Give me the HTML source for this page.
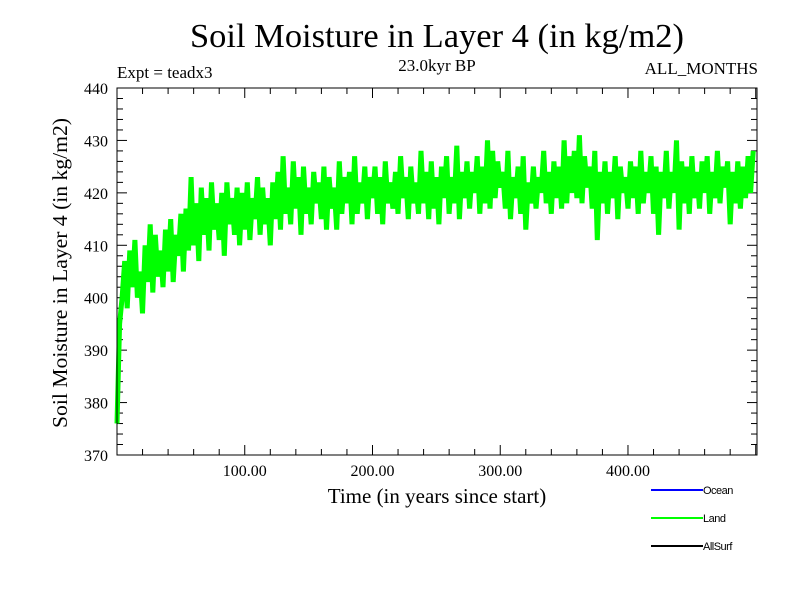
<!DOCTYPE html>
<html><head><meta charset="utf-8"><style>
body{margin:0;background:#fff}
svg{display:block}
text{font-family:"Liberation Serif",serif;fill:#000}
.s{font-family:"Liberation Sans",sans-serif;font-size:11px;letter-spacing:-0.5px}
</style></head><body>
<svg id="c" width="800" height="600" xmlns="http://www.w3.org/2000/svg">
<text x="437" y="47" font-size="34" text-anchor="middle" textLength="494" lengthAdjust="spacingAndGlyphs">Soil Moisture in Layer 4 (in kg/m2)</text>
<text x="117" y="78" font-size="17">Expt = teadx3</text>
<text x="437" y="71" font-size="17" text-anchor="middle">23.0kyr BP</text>
<text x="758" y="74" font-size="17" text-anchor="end">ALL_MONTHS</text>
<text transform="translate(67,273) rotate(-90)" font-size="21" text-anchor="middle" textLength="310" lengthAdjust="spacingAndGlyphs">Soil Moisture in Layer 4 (in kg/m2)</text>
<text x="437" y="503" font-size="21" text-anchor="middle">Time (in years since start)</text>
<g id="ticks"></g>
<g id="series"></g>
<rect x="117" y="88" width="640" height="367" fill="none" stroke="#000" stroke-width="1"/>
<g>
<line x1="651" y1="490" x2="703" y2="490" stroke="#0000ff" stroke-width="2"/>
<text class="s" x="703" y="494">Ocean</text>
<line x1="651" y1="518" x2="703" y2="518" stroke="#00ff00" stroke-width="2"/>
<text class="s" x="703" y="522">Land</text>
<line x1="651" y1="546" x2="703" y2="546" stroke="#000" stroke-width="2"/>
<text class="s" x="703" y="550">AllSurf</text>
</g>
</svg>
<script>
const yTicks=[370,380,390,400,410,420,430,440];
const xTicks=[100,200,300,400];
const xTickLabels=["100.00","200.00","300.00","400.00"];
const landStep=2;
const landValues=[
376,395,400,407,398,409,402,411,400,405,
397,410,403,414,401,412,404,409,402,413,
405,415,403,412,408,416,405,417,409,423,
410,418,407,421,412,419,409,422,413,418,
411,420,408,422,414,419,412,421,410,420,
413,422,411,419,415,423,412,421,414,419,
410,422,415,424,413,427,416,421,414,426,
417,423,412,425,416,421,414,424,418,422,
415,425,413,423,417,421,413,426,416,423,
418,424,414,427,416,422,418,425,415,423,
419,425,416,423,414,426,418,422,417,424,
416,427,419,423,415,425,418,422,416,428,
418,424,415,426,417,423,414,425,419,427,
416,423,418,429,415,424,419,426,417,424,
420,427,416,425,418,430,417,428,419,426,
421,424,417,428,415,423,419,425,416,427,
413,422,418,425,417,423,420,428,418,424,
416,426,419,425,417,430,418,427,420,428,
419,431,418,427,421,425,417,428,411,424,
418,426,416,424,419,427,415,425,420,423,
417,426,419,425,416,428,418,424,420,427,
416,425,412,424,419,428,417,424,420,430,
413,426,418,425,416,427,419,424,417,426,
420,427,416,424,419,428,418,425,421,426,
414,424,418,426,417,425,419,427,420,428];
const X0=117,X1=757,Y0=455,Y1=88,XMIN=0,XMAX=501,YMIN=370,YMAX=440;
const sx=v=>X0+(v-XMIN)/(XMAX-XMIN)*(X1-X0);
const sy=v=>Y0-(v-YMIN)/(YMAX-YMIN)*(Y0-Y1);
const NS="http://www.w3.org/2000/svg";
const tg=document.getElementById('ticks');
function ln(x1,y1,x2,y2){const l=document.createElementNS(NS,'line');l.setAttribute('x1',x1);l.setAttribute('y1',y1);l.setAttribute('x2',x2);l.setAttribute('y2',y2);l.setAttribute('stroke','#000');


tg.appendChild(l);}
function tx(x,y,s,anchor){const t=document.createElementNS(NS,'text');t.setAttribute('x',x);t.setAttribute('y',y);t.setAttribute('font-size','16');t.setAttribute('text-anchor',anchor);t.textContent=s;


tg.appendChild(t);}
for(let v=YMIN;v<=YMAX;v+=2){const y=sy(v),L=(v%10===0)?10:6;ln(X0,y,X0+L,y);ln(X1,y,X1-L,y);}
yTicks.forEach(v=>tx(108,sy(v)+6,String(v),'end'));
for(let v=20;v<XMAX;v+=20){const x=sx(v),L=(v%100===0)?10:6;ln(x,Y0,x,Y0-L);ln(x,Y1,x,Y1+L);}
xTicks.forEach((v,i)=>tx(sx(v),Y0+21,xTickLabels[i],'middle'));
const pts=landValues.map((v,i)=>sx(i*landStep).toFixed(1)+','+sy(v).toFixed(1)).join(' ');
const pl=document.createElementNS(NS,'polyline');
pl.setAttribute('points',pts);pl.setAttribute('fill','none');pl.setAttribute('stroke','#00ff00');pl.setAttribute('stroke-width','5');pl.setAttribute('stroke-linejoin','bevel');


document.getElementById('series').appendChild(pl);
</script>
</body></html>
